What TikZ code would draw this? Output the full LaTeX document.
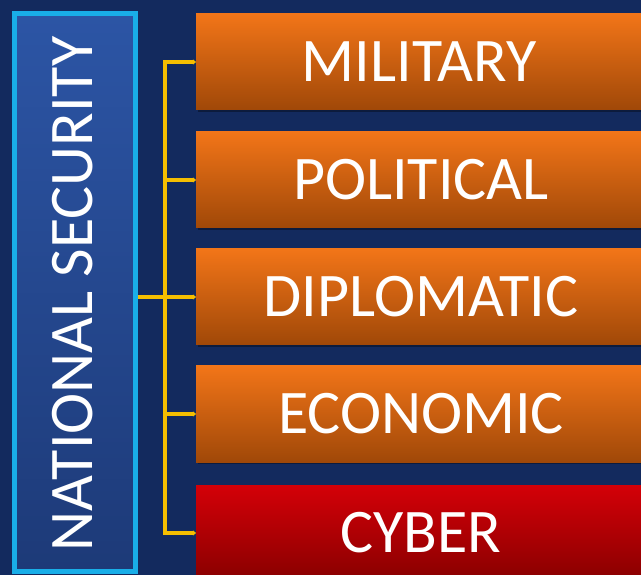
\documentclass[tikz,border=0pt]{standalone}
\usepackage{fontspec}
\setmainfont{Carlito}
\usetikzlibrary{arrows.meta}
\definecolor{bgnavy}{HTML}{132A5E}
\definecolor{lefttop}{HTML}{2C55A5}
\definecolor{leftbot}{HTML}{1D3A78}
\definecolor{cyanb}{HTML}{19AEE8}
\definecolor{orgtop}{HTML}{F27518}
\definecolor{orgbot}{HTML}{A04808}
\definecolor{redtop}{HTML}{D40008}
\definecolor{redbot}{HTML}{880000}
\definecolor{linkyellow}{HTML}{F5BE00}
\tikzset{
  catbox/.style={minimum width=450pt, minimum height=96pt, inner sep=0pt,
    text=white, font=\fontsize{62}{62}\selectfont, anchor=west,
    top color=orgtop, bottom color=orgbot, draw=none},
  redbox/.style={catbox, top color=redtop, bottom color=redbot},
  catlabel/.style={text=white, font=\fontsize{62}{62}\selectfont},
  link/.style={draw=linkyellow, line width=3.2pt},
  linkarrow/.style={link, -{Stealth[length=3pt,width=5pt]}}
}
\begin{document}
\begin{tikzpicture}[x=1pt,y=-1pt]
\useasboundingbox (0,0) rectangle (641,575);
\fill[bgnavy] (0,0) rectangle (641,575);
% left box
\node[draw=cyanb, line width=5pt, top color=lefttop, bottom color=leftbot,
  minimum width=121pt, minimum height=558pt, inner sep=0pt] (ns) at (75,292.5) {};
\node[rotate=90, text=white, font=\fontsize{62}{62}\selectfont] (nstext) at (73,294) {NATIONAL SECURITY};
% shadows
\foreach \y in {62,180,297,414,533}{
  \fill[black, opacity=0.35] (198,\y-46) rectangle (645,\y+50);
}
% category boxes
\node[catbox] (mil) at (196,62) {};
\node[catbox] (pol) at (196,180) {};
\node[catbox] (dip) at (196,297) {};
\node[catbox] (eco) at (196,414) {};
\node[redbox] (cyb) at (196,533) {};
\node[catlabel] at (419,62) {MILITARY};
\node[catlabel] at (421,180) {POLITICAL};
\node[catlabel] at (421,297) {DIPLOMATIC};
\node[catlabel] at (421,414) {ECONOMIC};
\node[catlabel] at (421,533) {CYBER};
% connectors
\coordinate (hub) at (165,297);
\draw[link] (ns.east |- hub) -- (hub);
\draw[link, line cap=rect] (hub |- mil.west) -- (hub |- cyb.west);
\draw[linkarrow] (hub |- mil.west) -- (mil.west);
\draw[linkarrow] (hub |- pol.west) -- (pol.west);
\draw[linkarrow] (hub) -- (dip.west);
\draw[linkarrow] (hub |- eco.west) -- (eco.west);
\draw[linkarrow] (hub |- cyb.west) -- (cyb.west);
\end{tikzpicture}
\end{document}
